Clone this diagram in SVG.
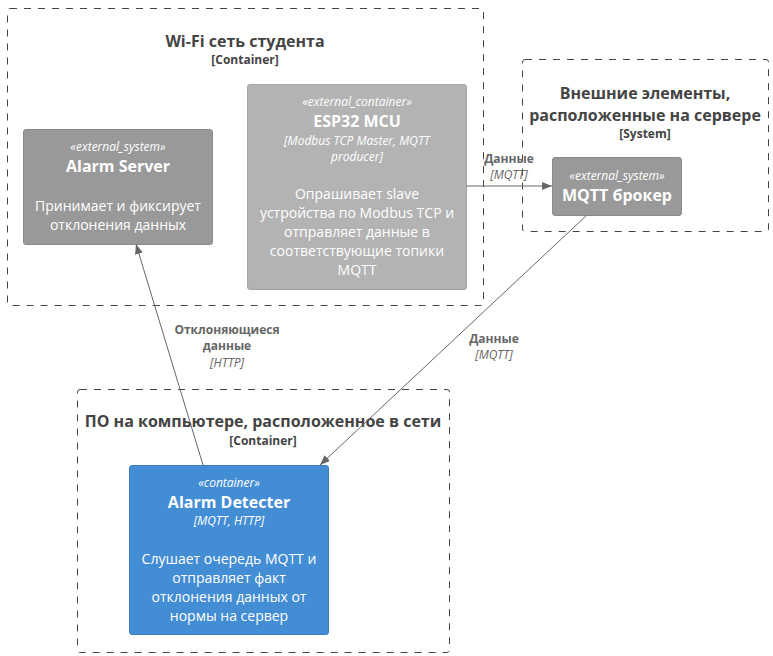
<svg xmlns="http://www.w3.org/2000/svg" width="773" height="656" viewBox="0 0 773 656">
<style>
text{font-family:"Open Sans","Noto Sans","DejaVu Sans",sans-serif;text-anchor:middle}
.bnd{fill:none;stroke:#444444;stroke-width:1;stroke-dasharray:7,7}
.bt{font-size:16px;font-weight:bold;fill:#444444}
.bs{font-size:12px;font-weight:bold;fill:#444444}
.st{font-size:12px;font-style:italic;fill:#ffffff}
.nt{font-size:16px;font-weight:bold;fill:#ffffff}
.tc{font-size:12px;font-style:italic;fill:#ffffff}
.ds{font-size:14px;fill:#ffffff}
.ln{stroke:#666666;stroke-width:1;fill:none}
.lb{font-size:12px;font-weight:bold;fill:#666666}
.li{font-size:12px;font-style:italic;fill:#666666}
</style>
<defs>
<marker id="ah" viewBox="0 0 10 10" refX="10" refY="5" markerWidth="10" markerHeight="10" markerUnits="userSpaceOnUse" orient="auto">
<path d="M0,1 L10,5 L0,9 Z" fill="#666666"/>
</marker>
</defs>
<rect width="773" height="656" fill="#ffffff"/>
<g id="boundary-wifi">
<rect class="bnd" x="7.5" y="8.5" width="476" height="297" rx="2.5"/>
<text class="bt" x="245" y="47">Wi-Fi сеть студента</text>
<text class="bs" x="245" y="64">[Container]</text>
</g>
<g id="boundary-server">
<rect class="bnd" x="522.5" y="59.5" width="246" height="172" rx="2.5"/>
<text class="bt" x="645" y="99">Внешние элементы,</text>
<text class="bt" x="645" y="121">расположенные на сервере</text>
<text class="bs" x="645" y="138">[System]</text>
</g>
<g id="boundary-pc">
<rect class="bnd" x="77.5" y="389.5" width="372" height="263" rx="2.5"/>
<text class="bt" x="263" y="427">ПО на компьютере, расположенное в сети</text>
<text class="bs" x="263" y="445">[Container]</text>
</g>
<g id="alarm-server">
<rect x="23.5" y="129.5" width="189" height="115" rx="2.5" fill="#999999" stroke="#8a8a8a"/>
<text class="st" x="118" y="151">«external_system»</text>
<text class="nt" x="118" y="172">Alarm Server</text>
<text class="ds" x="118" y="211">Принимает и фиксирует</text>
<text class="ds" x="118" y="230">отклонения данных</text>
</g>
<g id="esp32">
<rect x="247.5" y="84.5" width="219" height="205" rx="2.5" fill="#b3b3b3" stroke="#a6a6a6"/>
<text class="st" x="357" y="106">«external_container»</text>
<text class="nt" x="357" y="127">ESP32 MCU</text>
<text class="tc" x="357" y="145">[Modbus TCP Master, MQTT</text>
<text class="tc" x="357" y="161">producer]</text>
<text class="ds" x="357" y="199">Опрашивает slave</text>
<text class="ds" x="357" y="218">устройства по Modbus TCP и</text>
<text class="ds" x="357" y="237">отправляет данные в</text>
<text class="ds" x="357" y="256">соответствующие топики</text>
<text class="ds" x="357" y="275">MQTT</text>
</g>
<g id="mqtt-broker">
<rect x="552.5" y="157.5" width="129" height="58" rx="2.5" fill="#999999" stroke="#8a8a8a"/>
<text class="st" x="617" y="180">«external_system»</text>
<text class="nt" x="617" y="201">MQTT брокер</text>
</g>
<g id="alarm-detecter">
<rect x="129.5" y="465.5" width="199" height="169" rx="2.5" fill="#438dd5" stroke="#3c7fc0"/>
<text class="st" x="229" y="487">«container»</text>
<text class="nt" x="229" y="508">Alarm Detecter</text>
<text class="tc" x="229" y="525">[MQTT, HTTP]</text>
<text class="ds" x="229" y="564">Слушает очередь MQTT и</text>
<text class="ds" x="229" y="583">отправляет факт</text>
<text class="ds" x="229" y="602">отклонения данных от</text>
<text class="ds" x="229" y="621">нормы на сервер</text>
</g>
<g id="connectors">
<line class="ln" x1="466" y1="186" x2="552" y2="186" marker-end="url(#ah)"/>
<text class="lb" x="509" y="163">Данные</text>
<text class="li" x="509" y="179">[MQTT]</text>
<line class="ln" x1="587" y1="215" x2="320" y2="465" marker-end="url(#ah)"/>
<text class="lb" x="494" y="343">Данные</text>
<text class="li" x="494" y="359">[MQTT]</text>
<line class="ln" x1="203" y1="465" x2="136" y2="244" marker-end="url(#ah)"/>
<text class="lb" x="227" y="334">Отклоняющиеся</text>
<text class="lb" x="227" y="350">данные</text>
<text class="li" x="227" y="367">[HTTP]</text>
</g>
</svg>
